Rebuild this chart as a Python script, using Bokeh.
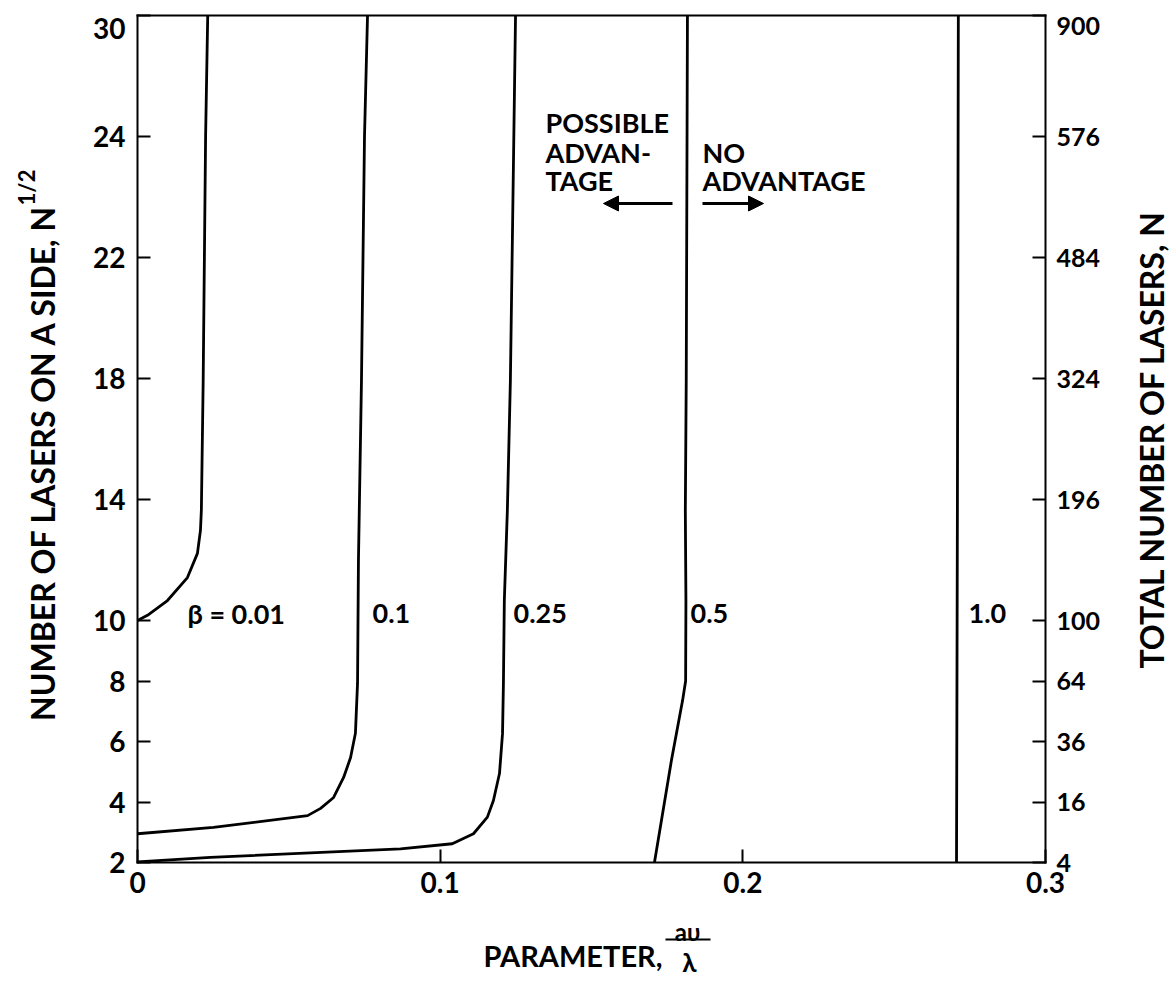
import numpy as np
from bokeh.plotting import figure
from bokeh.models import Range1d, LinearAxis, FixedTicker, Label, Arrow, NormalHead
from bokeh.embed import file_html
from bokeh.resources import INLINE

# ---------------- data ----------------
side_ticks = [2, 4, 6, 8, 10, 14, 18, 22, 24, 30]          # N^(1/2), left axis
total_ticks = [4, 16, 36, 64, 100, 196, 324, 484, 576, 900]  # N, right axis
x_ticks = [0.0, 0.1, 0.2, 0.3]
x_tick_labels = ["0", "0.1", "0.2", "0.3"]

beta_labels = ["\u03b2 = 0.01", "0.1", "0.25", "0.5", "1.0"]

b001_x = [0.0, 0.0033, 0.0099, 0.0165, 0.0198, 0.0208, 0.0211, 0.0217, 0.0225, 0.0232]
b001_y = [10.0, 10.17, 10.66, 11.42, 12.22, 12.98, 13.64, 17.93, 24.0, 30.0]

b01_x = [0.0, 0.0251, 0.0562, 0.0605, 0.0648, 0.0681, 0.0704, 0.0720, 0.0727, 0.0730, 0.0740, 0.0750, 0.0760]
b01_y = [2.95, 3.16, 3.55, 3.79, 4.15, 4.81, 5.47, 6.27, 7.92, 11.98, 17.93, 24.0, 30.0]

b025_x = [0.0, 0.0241, 0.0869, 0.1040, 0.1110, 0.1156, 0.1176, 0.1196, 0.1206, 0.1209, 0.1212, 0.1222, 0.1232, 0.1249]
b025_y = [2.02, 2.17, 2.45, 2.62, 2.95, 3.50, 4.05, 4.94, 6.26, 7.92, 10.66, 13.64, 17.93, 30.0]

b05_x = [0.1708, 0.1764, 0.1801, 0.1811, 0.1812, 0.1810, 0.1813, 0.1817]
b05_y = [2.0, 5.37, 7.36, 8.0, 10.66, 13.64, 17.93, 30.0]

b10_x = [0.2706, 0.2709, 0.2712]
b10_y = [2.0, 14.0, 30.0]

# nonlinear vertical axis of the original graph (value -> axis position)
scale_values = [2, 10, 22, 24, 30]
scale_units = [0, 4, 10, 12, 14]


def ypos(v):
    return np.interp(np.asarray(v, dtype=float), scale_values, scale_units)


# ---------------- layout ----------------
W, H = 1170, 982
FL, FR, FT, FB = 137, 1045, 15, 862       # plot box in page pixels


def px(xp):
    return (xp - FL) / (FR - FL) * 0.3


def py(yp):
    return (FB - yp) / ((FB - FT) / 14.0)


FONT = "Lato"

p = figure(width=W, height=H, x_range=Range1d(px(0), px(W)), y_range=Range1d(py(H), py(0)),
           x_axis_location=None, y_axis_location=None,
           output_backend="svg", toolbar_location=None,
           min_border=0, min_border_left=0, min_border_right=0,
           min_border_top=0, min_border_bottom=0)
p.xgrid.visible = False
p.ygrid.visible = False
p.outline_line_color = None
p.background_fill_color = "white"
p.border_fill_color = "white"

tick_u = [float(t) for t in ypos(side_ticks)]
# the top labels sit just below the top corner in the original; drawn separately below
left_over = {u: (str(s) if i < len(side_ticks) - 1 else "") for i, (u, s) in enumerate(zip(tick_u, side_ticks))}
right_over = {u: (str(n) if i < len(total_ticks) - 1 else "") for i, (u, n) in enumerate(zip(tick_u, total_ticks))}

ya = LinearAxis(fixed_location=0.0, bounds=(0.0, 14.0), ticker=FixedTicker(ticks=tick_u),
                major_label_overrides=left_over)
ra = LinearAxis(fixed_location=0.3, bounds=(0.0, 14.0), ticker=FixedTicker(ticks=tick_u),
                major_label_overrides=right_over)
xa = LinearAxis(fixed_location=0.0, bounds=(0.0, 0.3), ticker=FixedTicker(ticks=x_ticks),
                major_label_overrides={t: s for t, s in zip(x_ticks, x_tick_labels)})
ta = LinearAxis(fixed_location=14.0, bounds=(0.0, 0.3), ticker=FixedTicker(ticks=[]))
p.add_layout(ya, "left")
p.add_layout(ra, "right")
p.add_layout(xa, "below")
p.add_layout(ta, "above")

for ax, fs, so in ((ya, "28px", 12), (xa, "28px", 9), (ra, "25px", 11), (ta, "10px", 0)):
    ax.axis_line_width = 2
    ax.axis_line_color = "black"
    ax.axis_line_cap = "square"
    ax.major_tick_in = 13
    ax.major_tick_out = 0
    ax.major_tick_line_width = 2
    ax.minor_tick_line_color = None
    ax.major_label_text_font = FONT
    ax.major_label_text_font_style = "bold"
    ax.major_label_text_font_size = fs
    ax.major_label_text_color = "black"
    ax.major_label_standoff = so

# top tick labels, nudged below the corner as in the original
p.add_layout(Label(x=0.0, y=float(ypos(side_ticks[-1])), x_offset=-12, y_offset=-13,
                   text=str(side_ticks[-1]), text_align="right", text_baseline="middle",
                   text_font=FONT, text_font_style="bold", text_font_size="28px", text_color="black"))
p.add_layout(Label(x=0.3, y=float(ypos(side_ticks[-1])), x_offset=11, y_offset=-10,
                   text=str(total_ticks[-1]), text_align="left", text_baseline="middle",
                   text_font=FONT, text_font_style="bold", text_font_size="25px", text_color="black"))

# curves
for xs, ys in ((b001_x, b001_y), (b01_x, b01_y), (b025_x, b025_y), (b05_x, b05_y), (b10_x, b10_y)):
    p.line(xs, ypos(ys), line_color="black", line_width=2.8, line_join="round")


def lab(text, xp, yp, size, align="left", baseline="alphabetic", angle=0.0, style="bold"):
    p.add_layout(Label(x=px(xp), y=py(yp), text=text, text_font=FONT, text_font_style=style,
                       text_font_size=size, text_align=align, text_baseline=baseline,
                       angle=angle, text_color="black"))


# curve labels
for t, xp in zip(beta_labels, [187, 372, 513, 690, 968]):
    lab(t, xp, 613, "27px")

# region annotations
lab("POSSIBLE", 545, 122, "27px")
lab("ADVAN-", 545, 152, "27px")
lab("TAGE", 545, 180, "27px")
lab("NO", 702, 152, "27px")
lab("ADVANTAGE", 702, 180, "27px")

for xs, xe in ((672, 603), (702, 763)):
    p.add_layout(Arrow(end=NormalHead(size=15, fill_color="black", line_color="black"),
                       x_start=px(xs), y_start=py(203), x_end=px(xe), y_end=py(203),
                       line_width=3, line_color="black"))

# axis titles
lab("NUMBER OF LASERS ON A SIDE, N", 42, 462, "32px", align="center",
    baseline="middle", angle=np.pi / 2)
lab("1/2", 26, 187, "22px", align="center", baseline="middle", angle=np.pi / 2)
lab("TOTAL NUMBER OF LASERS, N", 1151, 439, "32px", align="center",
    baseline="middle", angle=np.pi / 2)
lab("PARAMETER,", 483, 955, "29px")
lab("a\u03c5", 687, 931, "24px", align="center")
p.add_layout(Arrow(start=None, end=None, x_start=px(665), y_start=py(939),
                   x_end=px(710), y_end=py(939), line_width=2, line_color="black"))
lab("\u03bb", 689, 961, "26px", align="center")

open("out.html", "w").write(file_html(p, INLINE))
